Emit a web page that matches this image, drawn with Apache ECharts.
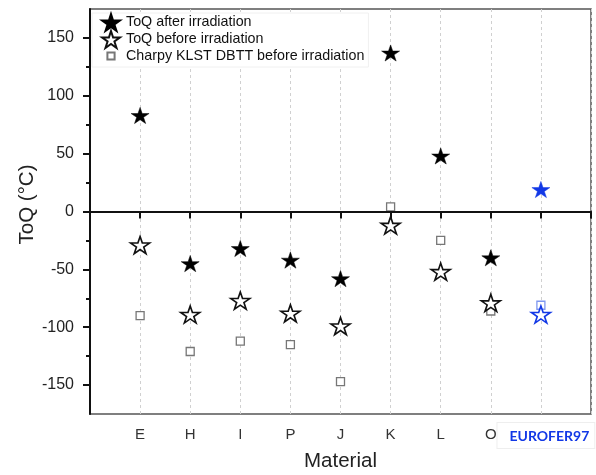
<!DOCTYPE html>
<html>
<head>
<meta charset="utf-8">
<script src="https://cdn.jsdelivr.net/npm/echarts@6/dist/echarts.min.js"></script>
<style>html,body{margin:0;padding:0;background:#fff}#c{width:596px;height:475px}</style>
</head>
<body>
<div id="c"></div>
<script>
// Data
const materials = ['E', 'H', 'I', 'P', 'J', 'K', 'L', 'O', 'EUROFER97'];
const toqAfter = [83, -45, -32, -42, -58, 137, 48, -40, 19];
const toqBefore = [-29, -89, -77, -88, -99, -12, -52, -79, -89];
const charpyDBTT = [-90, -121, -112, -115, -147, 4, -25, -86, -81];
const yMajorTicks = [-150, -100, -50, 0, 50, 100, 150];
const yMinorTicks = [-125, -75, -25, 25, 75, 125];
const seriesNames = ['ToQ after irradiation', 'ToQ before irradiation', 'Charpy KLST DBTT before irradiation'];

const STAR = 'path://M50,0L61.2,34.5L97.6,34.5L68.2,55.9L79.4,90.5L50,69.1L20.6,90.5L31.8,55.9L2.4,34.5L38.8,34.5Z';
const SQUARE_ICON = 'path://M0,0M25,20M8,5.5L17,5.5L17,14.5L8,14.5Z';
const BLUE = '#1238e6';
const axisCats = [''].concat(materials, ['']);

function build(values, euStyle) {
  return materials.map((m, i) => {
    const item = { value: [m, values[i]] };
    if (m === 'EUROFER97') item.itemStyle = euStyle;
    return item;
  });
}

const chart = echarts.init(document.getElementById('c'), null, { renderer: 'canvas' });
const font = 'Liberation Sans, Arial, sans-serif';
chart.setOption({
  animation: false,
  backgroundColor: '#fff',
  textStyle: { fontFamily: font },
  grid: { left: 90, right: 5, top: 9, bottom: 61, show: true, borderColor: '#555', borderWidth: 1.5, backgroundColor: 'transparent', outerBoundsMode: 'none', containLabel: false },
  legend: {
    orient: 'vertical', left: 92, top: 13, itemGap: -2, itemWidth: 20, itemHeight: 17,
    padding: [0, 4, 2, 8], backgroundColor: '#fff', borderColor: '#f0f0f0', borderWidth: 1,
    textStyle: { fontSize: 14.3, lineHeight: 16, color: '#111', fontFamily: font },
    data: [
      { name: seriesNames[0], icon: STAR },
      { name: seriesNames[1], icon: STAR },
      { name: seriesNames[2], icon: SQUARE_ICON }
    ],
    z: 10
  },
  xAxis: {
    type: 'category', data: axisCats, boundaryGap: false,
    name: 'Material', nameLocation: 'middle', nameGap: 37, nameMoveOverlap: false,
    nameTextStyle: { fontSize: 20.5, color: '#222', fontFamily: font },
    axisLine: { lineStyle: { color: '#111', width: 2 } },
    axisTick: { show: true, interval: 0, length: 7, lineStyle: { color: '#111', width: 2 } },
    axisLabel: {
      interval: 0, margin: 9, fontSize: 15, color: '#333', fontFamily: font,
      formatter: v => v === 'EUROFER97' ? '{sp|}{eu|EUROFER97}' : (v ? '{n|' + v + '}' : ''),
      rich: {
        n: { fontSize: 15, color: '#333', fontFamily: font, padding: [4, 0, 0, 0] },
        sp: { width: 10 },
        eu: { color: BLUE, fontWeight: 'bold', fontSize: 14, fontFamily: 'Lato, sans-serif', backgroundColor: '#fff', borderColor: '#eee', borderWidth: 1, padding: [6, 5, 5, 12] }
      }
    },
    splitLine: { show: true, interval: 0, lineStyle: { color: '#d0d0d0', type: [3, 3], width: 1 } }
  },
  yAxis: [{
    type: 'value', min: -175, max: 175,
    name: 'ToQ (°C)', nameLocation: 'middle', nameGap: 52, nameRotate: 90, nameMoveOverlap: false,
    nameTextStyle: { fontSize: 20.5, color: '#222', fontFamily: font, padding: [0, 0, 0, 14] },
    axisLine: { show: true, lineStyle: { color: '#111', width: 2 } },
    axisTick: { show: true, length: 7, customValues: yMajorTicks, lineStyle: { color: '#111', width: 2 } },
    axisLabel: { customValues: yMajorTicks, margin: 16, fontSize: 16, color: '#222', fontFamily: font },
    splitLine: { show: false }
  }, {
    type: 'value', min: -175, max: 175, position: 'left', offset: 0,
    axisLine: { show: false },
    axisTick: { show: true, length: 4, customValues: yMinorTicks, lineStyle: { color: '#111', width: 2 } },
    axisLabel: { show: false },
    splitLine: { show: false }
  }],
  series: [
    {
      name: seriesNames[2], type: 'scatter', symbol: 'rect', symbolSize: 8,
      itemStyle: { color: '#fff', borderColor: '#777', borderWidth: 1.3, opacity: 1 },
      data: build(charpyDBTT, { color: '#fff', borderColor: '#7f98f0', borderWidth: 1.3, opacity: 1 }),
      markLine: {
        silent: true, symbol: 'none', label: { show: false },
        lineStyle: { color: '#111', width: 2, type: 'solid' },
        data: [{ yAxis: 0 }]
      },
      z: 3
    },
    {
      name: seriesNames[1], type: 'scatter', symbol: STAR, symbolSize: [19, 18], symbolKeepAspect: true,
      itemStyle: { color: '#fff', borderColor: '#111', borderWidth: 1.6, opacity: 1 },
      data: build(toqBefore, { color: '#fff', borderColor: BLUE, borderWidth: 1.6, opacity: 1 }),
      z: 4
    },
    {
      name: seriesNames[0], type: 'scatter', symbol: STAR, symbolSize: [18, 17], symbolKeepAspect: true,
      itemStyle: { color: '#000', borderColor: '#000', borderWidth: 0.5, opacity: 1 },
      data: build(toqAfter, { color: BLUE, borderColor: BLUE, borderWidth: 0.5, opacity: 1 }),
      z: 5
    }
  ]
});
</script>
</body>
</html>
